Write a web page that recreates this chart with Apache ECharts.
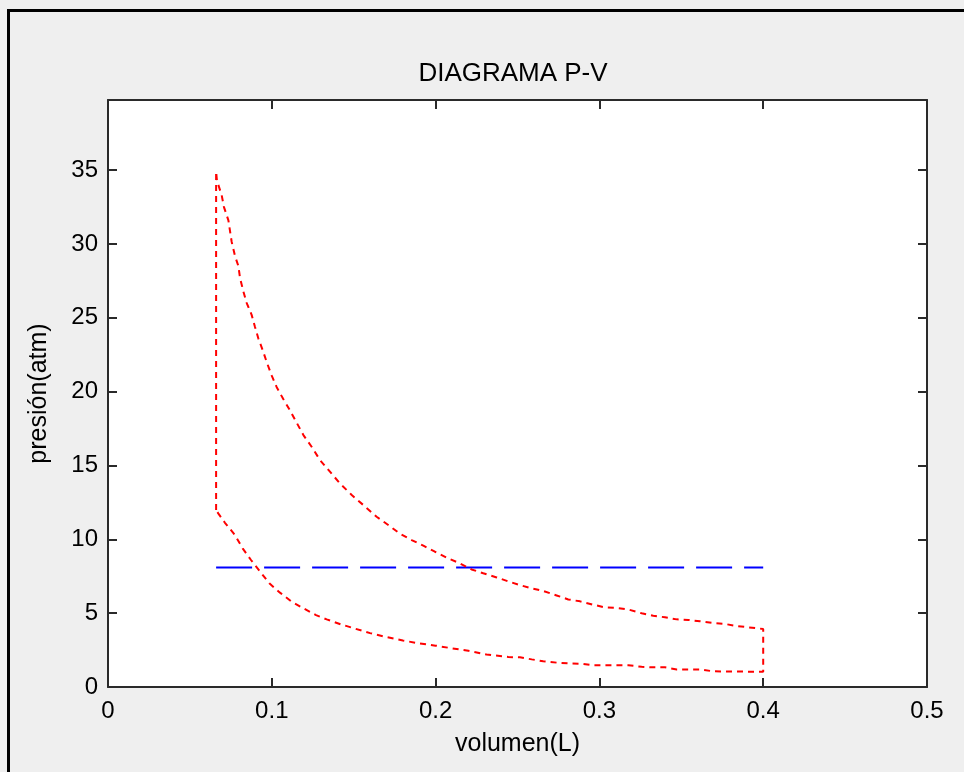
<!DOCTYPE html>
<html>
<head>
<meta charset="utf-8">
<script src="https://cdn.jsdelivr.net/npm/echarts@6/dist/echarts.min.js"></script>
<style>
html,body{margin:0;padding:0;background:#efefef;}
#c{width:964px;height:772px;}
</style>
</head>
<body>
<div id="c"></div>
<script>
// Expansion curve (upper), V in L, P in atm
const expansionV = [0.066,0.0665,0.0694,0.0708,0.0735,0.0755,0.0775,0.0796,0.0806,0.0826,0.0847,0.0877,0.0897,0.0918,0.0948,0.0969,0.0999,0.103,0.107,0.111,0.1193,0.1243,0.1294,0.1355,0.1416,0.1488,0.1559,0.164,0.1711,0.178,0.1854,0.1925,0.1996,0.2077,0.2149,0.222,0.2291,0.2373,0.2444,0.2515,0.2587,0.2657,0.2739,0.281,0.2882,0.2963,0.3034,0.3105,0.3177,0.3258,0.3329,0.34,0.3472,0.3543,0.3614,0.3695,0.3767,0.3838,0.391,0.40];
const expansionP = [34.9,34.3,33.3,32.5,31.6,30.15,29.2,28.5,27.7,26.8,26.0,25.2,24.4,23.6,22.7,22.0,21.1,20.3,19.5,18.75,17.06,16.27,15.37,14.58,13.79,13.0,12.32,11.53,10.97,10.4,9.95,9.57,9.16,8.71,8.37,7.96,7.70,7.42,7.15,6.90,6.68,6.50,6.20,5.93,5.80,5.57,5.39,5.35,5.25,4.99,4.83,4.72,4.58,4.54,4.45,4.33,4.27,4.13,4.04,3.93];
// Compression curve (lower)
const compressionV = [0.066,0.0673,0.0714,0.0775,0.0822,0.0873,0.0924,0.0985,0.105,0.1121,0.1193,0.127,0.1335,0.142,0.150,0.160,0.170,0.180,0.190,0.200,0.210,0.220,0.2311,0.2444,0.2515,0.2587,0.2657,0.2739,0.281,0.2882,0.2963,0.3177,0.3258,0.3329,0.34,0.3472,0.3614,0.3695,0.391,0.40];
const compressionP = [11.98,11.76,11.12,10.29,9.39,8.60,7.88,7.02,6.39,5.78,5.33,4.87,4.58,4.25,3.98,3.65,3.38,3.15,2.95,2.80,2.62,2.45,2.20,2.03,2.01,1.87,1.74,1.65,1.60,1.58,1.47,1.47,1.37,1.33,1.33,1.19,1.19,1.06,1.04,1.04];
// Horizontal reference line
const refV = [0.066,0.40];
const refP = [8.1,8.1];

const xTicks = [0,0.1,0.2,0.3,0.4,0.5];
const yTicks = [0,5,10,15,20,25,30,35];

// Build closed cycle: compression top -> expansion -> down at V=0.4 -> compression back
const cycle = [];
cycle.push([compressionV[0], compressionP[0]]);
for (let i = 0; i < expansionV.length; i++) cycle.push([expansionV[i], expansionP[i]]);
for (let i = compressionV.length - 1; i >= 0; i--) cycle.push([compressionV[i], compressionP[i]]);
const ref = refV.map((v,i)=>[v, refP[i]]);

const FONT = 'Liberation Sans, Arial, sans-serif';
const axisCol = '#2a2a2a';
const chart = echarts.init(document.getElementById('c'));
const fmtX = v => { const ok = xTicks.some(t=>Math.abs(t-v)<1e-9); return ok ? (v===0?'0':String(+v.toFixed(1))) : ''; };
const fmtY = v => { const ok = yTicks.some(t=>Math.abs(t-v)<1e-9); return ok ? String(v) : ''; };

chart.setOption({
  backgroundColor: '#efefef',
  animation: false,
  title: {
    text: 'DIAGRAMA P-V', left: 508, top: 56, textAlign: 'center',
    textStyle: {fontFamily: FONT, fontSize: 26, fontWeight: 'normal', color: '#000'}
  },
  grid: {left: 108, top: 100, right: 37, bottom: 85, show: true, backgroundColor: '#fff', borderWidth: 0},
  graphic: [{
    type: 'rect', silent: true, z: 100,
    shape: {x: 8.5, y: 10.5, width: 2000, height: 2000},
    style: {fill: 'none', stroke: '#000', lineWidth: 3}
  }],
  xAxis: [{
    type: 'value', min: 0, max: 0.5, interval: 0.1, position: 'bottom',
    name: 'volumen(L)', nameLocation: 'middle', nameGap: 45,
    nameTextStyle: {fontFamily: FONT, fontSize: 25, color: '#000'},
    axisLine: {show: true, onZero: false, lineStyle: {color: axisCol, width: 2}},
    axisTick: {show: true, inside: true, length: 9, lineStyle: {color: axisCol, width: 2}},
    axisLabel: {fontFamily: FONT, fontSize: 24, color: '#000', margin: 12, formatter: fmtX},
    splitLine: {show: false}
  },{
    type: 'value', min: 0, max: 0.5, interval: 0.1, position: 'top',
    axisLine: {show: true, onZero: false, lineStyle: {color: axisCol, width: 2}},
    axisTick: {show: true, inside: true, length: 9, lineStyle: {color: axisCol, width: 2}},
    axisLabel: {show: false}, splitLine: {show: false}
  }],
  yAxis: [{
    type: 'value', min: 0, max: 39.75, interval: 5, position: 'left',
    name: 'presión(atm)', nameLocation: 'middle', nameGap: 56, nameRotate: 90,
    nameTextStyle: {fontFamily: FONT, fontSize: 25, color: '#000'},
    axisLine: {show: true, onZero: false, lineStyle: {color: axisCol, width: 2}},
    axisTick: {show: true, inside: true, length: 9, lineStyle: {color: axisCol, width: 2}},
    axisLabel: {fontFamily: FONT, fontSize: 24, color: '#000', margin: 10, formatter: fmtY, showMaxLabel: false},
    splitLine: {show: false}
  },{
    type: 'value', min: 0, max: 39.75, interval: 5, position: 'right',
    axisLine: {show: true, onZero: false, lineStyle: {color: axisCol, width: 2}},
    axisTick: {show: true, inside: true, length: 9, lineStyle: {color: axisCol, width: 2}},
    axisLabel: {show: false}, splitLine: {show: false}
  }],
  series: [{
    type: 'line', data: cycle, showSymbol: false, smooth: false,
    lineStyle: {color: '#ff0000', width: 2, type: [6, 5]}, z: 3
  },{
    type: 'line', data: ref, showSymbol: false,
    lineStyle: {color: '#0000ff', width: 2, type: [36, 12]}, z: 2
  }]
});
</script>
</body>
</html>
